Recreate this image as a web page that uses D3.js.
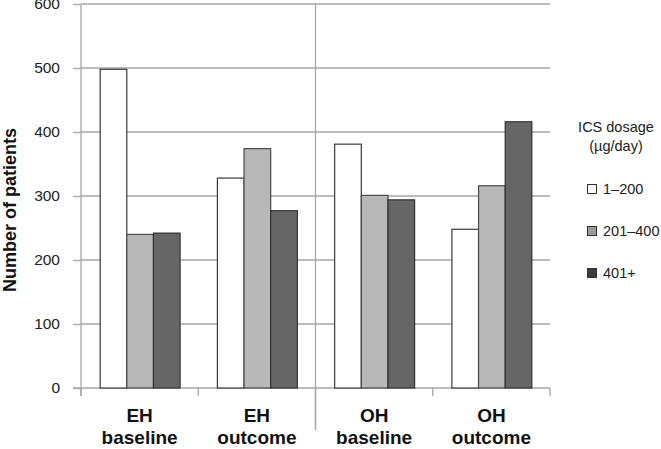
<!DOCTYPE html>
<html>
<head>
<meta charset="utf-8">
<script src="https://cdn.jsdelivr.net/npm/d3@7/dist/d3.min.js"></script>
<style>
  html, body { margin: 0; padding: 0; background: #fff; }
  svg { display: block; font-family: "Liberation Sans", Arial, sans-serif; }
</style>
</head>
<body>
<svg id="chart" width="661" height="449"></svg>
<script>
// ---- Data ----
const categories = ["EH baseline", "EH outcome", "OH baseline", "OH outcome"];
const catLine1 = ["EH", "EH", "OH", "OH"];
const catLine2 = ["baseline", "outcome", "baseline", "outcome"];
const seriesNames = ["1\u2013200", "201\u2013400", "401+"];
const dose1to200 = [498, 328, 381, 248];
const dose201to400 = [240, 374, 301, 316];
const dose401plus = [242, 277, 294, 416];
const yTickValues = [0, 100, 200, 300, 400, 500, 600];
const yTitle = "Number of patients";
const legendTitle = ["ICS dosage", "(\u00b5g/day)"];

// ---- Layout ----
const svg = d3.select("#chart");
const plotLeft = 81, plotRight = 550, plotTop = 4, plotBottom = 388;
const seriesFill = ["#ffffff", "#b8b8b8", "#666666"];
const seriesStroke = ["#3a3a3a", "#4a4a4a", "#333333"];
const gridColor = "#a6a6a6";

const table = categories.map((c, i) => ({
  cat: c, values: [dose1to200[i], dose201to400[i], dose401plus[i]]
}));

const x0 = d3.scaleBand().domain(categories).range([plotLeft, plotRight]).padding(0);
const x1 = d3.scaleBand().domain(d3.range(seriesNames.length))
  .range([0, x0.bandwidth()]).paddingInner(0).paddingOuter(0.7);
const y = d3.scaleLinear().domain([0, 600]).range([plotBottom, plotTop]);

// gridlines
svg.append("g").selectAll("line").data(yTickValues.filter(d => d > 0)).join("line")
  .attr("x1", plotLeft).attr("x2", plotRight)
  .attr("y1", d => y(d)).attr("y2", d => y(d))
  .attr("stroke", gridColor).attr("stroke-width", 1.3);

// y axis
const yAxis = svg.append("g").attr("transform", `translate(${plotLeft},0)`)
  .call(d3.axisLeft(y).tickValues(yTickValues).tickSize(8).tickPadding(13).tickSizeOuter(0));
yAxis.select(".domain").remove();
yAxis.selectAll(".tick line").attr("stroke", gridColor).attr("stroke-width", 1.3);
yAxis.selectAll(".tick text").attr("font-size", "15.5px").attr("fill", "#222")
  .attr("font-family", "Liberation Sans, Arial, sans-serif");
svg.append("line").attr("x1", plotLeft).attr("x2", plotLeft)
  .attr("y1", y(600)).attr("y2", plotBottom + 8)
  .attr("stroke", gridColor).attr("stroke-width", 1.3);

// x axis line and boundary ticks
svg.append("line").attr("x1", plotLeft - 8).attr("x2", plotRight)
  .attr("y1", plotBottom).attr("y2", plotBottom)
  .attr("stroke", gridColor).attr("stroke-width", 1.3);
const bounds = categories.map(c => x0(c)).concat([plotRight]);
svg.append("g").selectAll("line").data(bounds).join("line")
  .attr("x1", d => d).attr("x2", d => d)
  .attr("y1", plotBottom).attr("y2", (d, i) => i === 2 ? 430 : plotBottom + 8)
  .attr("stroke", gridColor).attr("stroke-width", 1.3);
// middle separator full height
svg.append("line").attr("x1", x0(categories[2])).attr("x2", x0(categories[2]))
  .attr("y1", y(600)).attr("y2", 430)
  .attr("stroke", gridColor).attr("stroke-width", 1.3);

// bars
const groups = svg.append("g").selectAll("g").data(table).join("g")
  .attr("transform", d => `translate(${x0(d.cat)},0)`);
groups.selectAll("rect").data(d => d.values.map((v, k) => ({ v, k }))).join("rect")
  .attr("x", d => x1(d.k) + 0.5)
  .attr("width", x1.bandwidth())
  .attr("y", d => y(d.v))
  .attr("height", d => y(0) - y(d.v))
  .attr("fill", d => seriesFill[d.k])
  .attr("stroke", d => seriesStroke[d.k])
  .attr("stroke-width", 1.2);

// x labels
const xl = svg.append("g").selectAll("g").data(categories).join("g")
  .attr("transform", c => `translate(${x0(c) + x0.bandwidth() / 2},0)`);
xl.append("text").attr("y", 422).attr("text-anchor", "middle")
  .attr("font-weight", "bold").attr("font-size", "19px").attr("fill", "#111")
  .text((c, i) => catLine1[i]);
xl.append("text").attr("y", 444).attr("text-anchor", "middle")
  .attr("font-weight", "bold").attr("font-size", "19px").attr("fill", "#111")
  .text((c, i) => catLine2[i]);

// y title
svg.append("text").attr("transform", "translate(16,210) rotate(-90)")
  .attr("text-anchor", "middle").attr("font-weight", "bold")
  .attr("font-size", "18px").attr("fill", "#111").text(yTitle);

// legend
const lg = svg.append("g");
lg.selectAll("text.title").data(legendTitle).join("text").attr("class", "title")
  .attr("x", 616).attr("y", (d, i) => 132 + i * 19)
  .attr("text-anchor", "middle").attr("font-size", "14.5px").attr("fill", "#222")
  .text(d => d);
const items = lg.selectAll("g.item").data(seriesNames).join("g").attr("class", "item")
  .attr("transform", (d, i) => `translate(587,${184 + i * 42})`);
items.append("rect").attr("x", 0.5).attr("y", 0.5).attr("width", 9).attr("height", 9)
  .attr("fill", (d, i) => i === 1 ? "#9a9a9a" : (i === 2 ? "#3c3c3c" : "#fff"))
  .attr("stroke", "#333").attr("stroke-width", 1);
items.append("text").attr("x", 16).attr("y", 10)
  .attr("font-size", "14.5px").attr("fill", "#222").text(d => d);
</script>
</body>
</html>
